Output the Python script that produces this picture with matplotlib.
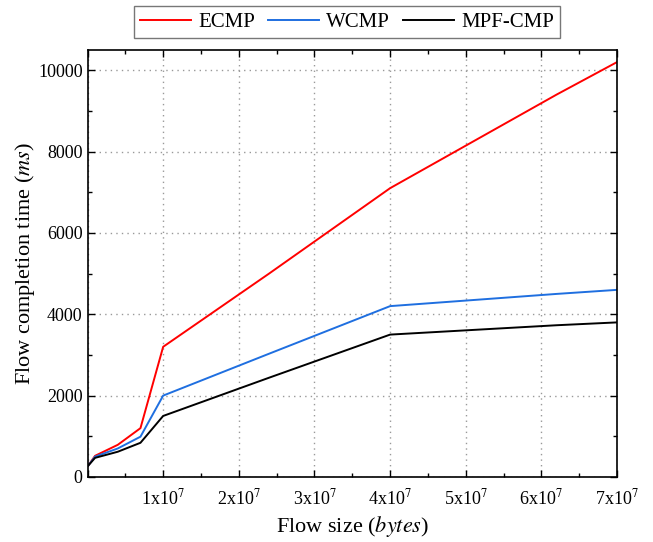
import matplotlib
matplotlib.use('Agg')
import matplotlib.pyplot as plt
from matplotlib.ticker import MultipleLocator, FuncFormatter

plt.rcParams['font.family'] = 'Liberation Serif'
plt.rcParams['mathtext.fontset'] = 'stix'

flow_size = [0.1e6, 1e6, 4e6, 7e6, 1e7, 2.4e7, 4e7, 6.2e7, 7e7]
ecmp = [280, 520, 790, 1200, 3200, 5000, 7100, 9400, 10200]
wcmp = [280, 500, 700, 990, 2000, 3030, 4200, 4500, 4600]
mpf_cmp = [280, 470, 620, 840, 1500, 2440, 3500, 3730, 3800]

fig = plt.figure(figsize=(6.53, 5.42), dpi=100)
ax = fig.add_axes([0.134, 0.120, 0.811, 0.788])

ax.plot(flow_size, ecmp, color='#ff0000', lw=1.4, label='ECMP')
ax.plot(flow_size, wcmp, color='#1f6fe0', lw=1.4, label='WCMP')
ax.plot(flow_size, mpf_cmp, color='black', lw=1.4, label='MPF-CMP')

ax.set_xlim(0, 7e7)
ax.set_ylim(0, 10500)
ax.xaxis.set_major_locator(MultipleLocator(1e7))
ax.xaxis.set_minor_locator(MultipleLocator(5e6))
ax.yaxis.set_major_locator(MultipleLocator(2000))
ax.yaxis.set_minor_locator(MultipleLocator(1000))

def xfmt(v, pos):
    if v == 0:
        return ''
    return r'%dx10$^{7}$' % round(v / 1e7)

ax.xaxis.set_major_formatter(FuncFormatter(xfmt))
ax.tick_params(which='both', direction='in', top=True, right=True, labelsize=13)
ax.tick_params(which='major', length=5, width=1)
ax.tick_params(which='minor', length=3, width=1)
ax.tick_params(axis='x', pad=8)
for s in ax.spines.values():
    s.set_linewidth(1.2)

ax.grid(True, which='major', linestyle=(0, (1, 3)), color='#999999', lw=1)

ax.set_xlabel('Flow size ($\\it{bytes}$)', fontsize=16)
ax.set_ylabel('Flow completion time ($\\it{ms}$)', fontsize=16, labelpad=1)

leg = ax.legend(loc='lower center', bbox_to_anchor=(0.49, 1.0), ncol=3, fontsize=15,
                frameon=True, fancybox=False, edgecolor='#555555', handlelength=2.45,
                columnspacing=0.6, handletextpad=0.35, borderpad=0.3, borderaxespad=0.55)
leg.get_frame().set_linewidth(1.0)

fig.savefig('out.png', dpi=100)
